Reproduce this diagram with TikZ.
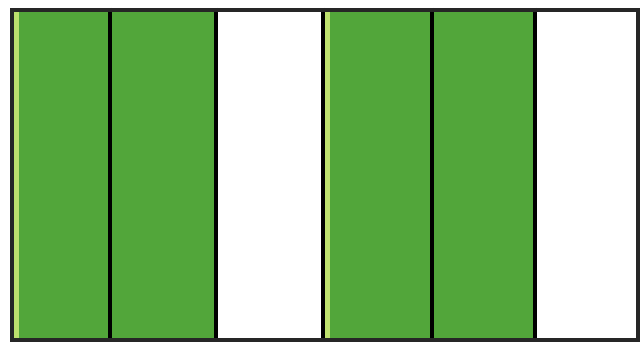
\documentclass[tikz,border=0pt]{standalone}
\definecolor{stripgreen}{RGB}{82,166,58}
\definecolor{edgelight}{RGB}{190,225,110}
\tikzset{
  greenstrip/.style={fill=stripgreen, draw=none},
  divider/.style={draw=black, line width=4.5pt},
  frame/.style={draw=black!85, line width=3.5pt}
}
\begin{document}
\begin{tikzpicture}[x=1pt,y=-1pt]
\useasboundingbox (0,0) rectangle (643,344);
\fill[white] (0,0) rectangle (643,344);
% green strips
\fill[greenstrip] (12,10) rectangle (110,340);
\fill[greenstrip] (110,10) rectangle (216,340);
\fill[greenstrip] (323,10) rectangle (432,340);
\fill[greenstrip] (432,10) rectangle (535,340);
% light left edges
\fill[edgelight] (14,12) rectangle (19,338);
\fill[edgelight] (325,12) rectangle (330,338);
% dividers
\foreach \x in {110,216,323,432,535}
  \draw[divider] (\x,8) -- (\x,342);
% frame
\draw[frame] (12,10) rectangle (638,340);
\end{tikzpicture}
\end{document}
